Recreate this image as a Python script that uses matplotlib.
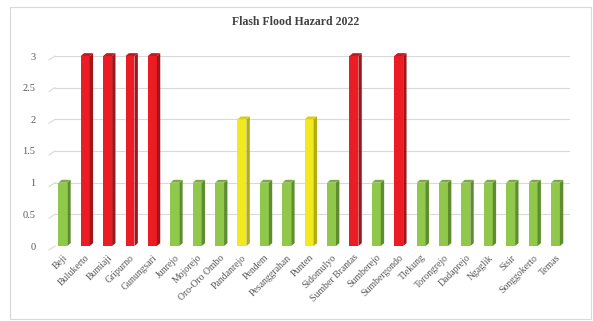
import matplotlib.pyplot as plt
from matplotlib.patches import Polygon, Rectangle
from matplotlib.transforms import offset_copy

villages = ["Beji", "Bulukerto", "Bumiaji", "Gripurno", "Gunungsari", "Junrejo",
            "Mojorejo", "Oro-Oro Ombo", "Pandanrejo", "Pendem", "Pesanggrahan",
            "Punten", "Sidomulyo", "Sumber Brantas", "Sumberejo", "Sumbergondo",
            "Tlekung", "Torongrejo", "Dadaprejo", "Ngaglik", "Sisir",
            "Songgokerto", "Temas"]
hazard = [1, 3, 3, 3, 3, 1, 1, 1, 2, 1, 1, 2, 1, 3, 1, 3, 1, 1, 1, 1, 1, 1, 1]
y_ticks = [0, 0.5, 1, 1.5, 2, 2.5, 3]
y_labels = ["0", "0.5", "1", "1.5", "2", "2.5", "3"]

# front / side / top shades per hazard level
front = {1: "#8FC84A", 2: "#F2EA1C", 3: "#EC1C24"}
side = {1: "#5E8C2E", 2: "#B3AC12", 3: "#A3141A"}
top = {1: "#7AAE3C", 2: "#D8D016", 3: "#C8181F"}

plt.rcParams['font.family'] = ['Liberation Serif', 'DejaVu Serif']

fig = plt.figure(figsize=(5.93, 3.21), dpi=100)
fig.patches.append(Rectangle((10 / 593, 2 / 321), 581 / 593, 312 / 321,
                             transform=fig.transFigure, fill=False,
                             edgecolor="#D9D9D9", linewidth=0.8))
ax = fig.add_axes([55 / 593, 75 / 321, 515 / 593, 190 / 321])

w = 0.4      # front face width
dx = 0.15    # depth in x (data units)
dy = 0.045   # depth in y (data units)
xs = list(range(len(villages)))

ax.bar(xs, hazard, width=w, color=[front[v] for v in hazard], zorder=3,
       linewidth=0)
for x, v in zip(xs, hazard):
    r = x + w / 2
    l = x - w / 2
    ax.add_patch(Polygon([(r, 0), (r + dx, dy), (r + dx, v + dy), (r, v)],
                         closed=True, facecolor=side[v], edgecolor="none",
                         zorder=3, clip_on=False))
    ax.add_patch(Polygon([(l, v), (l + dx, v + dy), (r + dx, v + dy), (r, v)],
                         closed=True, facecolor=top[v], edgecolor="none",
                         zorder=3, clip_on=False))

ax.set_xlim(-0.35, 22.65)
ax.set_ylim(0, 3)
ax.set_yticks(y_ticks)
ax.set_yticklabels(y_labels, fontsize=7.5, color="#595959")
ax.tick_params(axis="y", length=0, pad=14)
ax.yaxis.grid(True, color="#D9D9D9", linewidth=0.8, zorder=0)
ax.set_axisbelow(True)

# slanted stubs at the left end of each gridline
ytrans = ax.get_yaxis_transform()
stub = offset_copy(ytrans, fig=fig, x=-6, y=-4, units="dots")
to_fig = fig.transFigure.inverted()
for t in y_ticks:
    p0 = to_fig.transform(ytrans.transform((0, t)))
    p1 = to_fig.transform(stub.transform((0, t)))
    fig.add_artist(plt.Line2D([p1[0], p0[0]], [p1[1], p0[1]],
                              color="#D9D9D9", linewidth=0.8))

ax.set_xticks(xs)
ax.set_xticklabels(villages, rotation=45, ha="right", va="top",
                   rotation_mode="anchor", fontsize=7, color="#595959")
ax.tick_params(axis="x", length=0, pad=5)
for s in ax.spines.values():
    s.set_visible(False)

fig.text(296 / 593, 1 - 22 / 321, "Flash Flood Hazard 2022", ha="center",
         va="center", fontsize=8.5, fontweight="bold", color="#404040")

fig.savefig("out.png", dpi=100)
